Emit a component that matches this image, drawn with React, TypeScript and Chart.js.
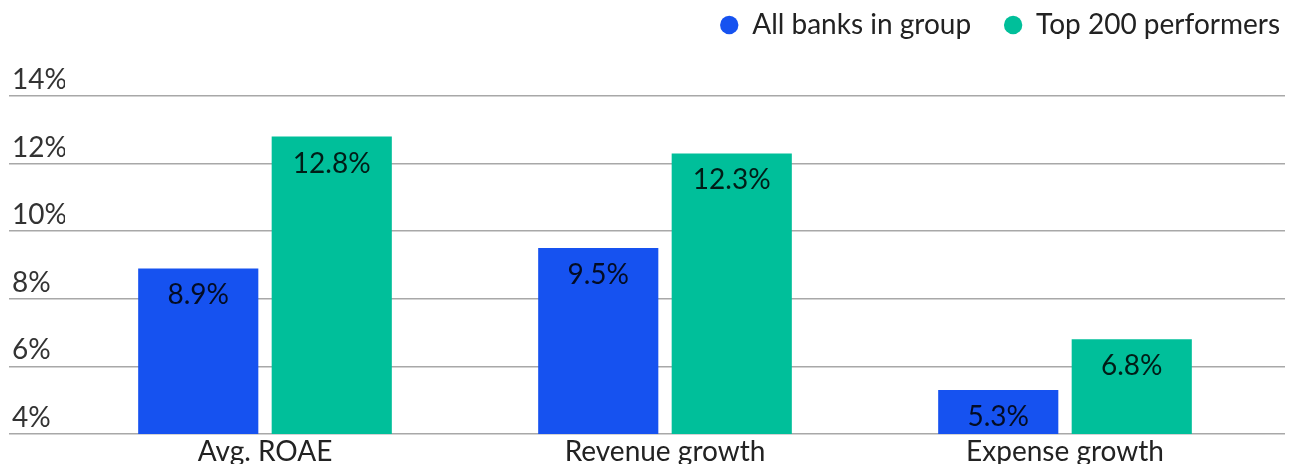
import React, { useEffect, useRef } from "react";
import { Chart, registerables } from "chart.js";

Chart.register(...registerables);

const categories = ["Avg. ROAE", "Revenue growth", "Expense growth"];
const allBanks = [8.9, 9.5, 5.3];
const top200 = [12.8, 12.3, 6.8];
const seriesNames = ["All banks in group", "Top 200 performers"];
const yMin = 4;
const yMax = 14;
const yStep = 2;

const BLUE = "#1652F0";
const TEAL = "#00BF9A";
const GRID = "#a8a8a8";
const FONT = "Lato";
const FS = 28;

const valueLabels = {
  id: "valueLabels",
  afterDatasetsDraw(chart: any) {
    const ctx = chart.ctx;
    ctx.save();
    ctx.font = `${FS}px ${FONT}`;
    ctx.fillStyle = "rgba(0,0,0,0.85)";
    ctx.textAlign = "center";
    ctx.textBaseline = "middle";
    chart.data.datasets.forEach((ds: any, i: number) => {
      chart.getDatasetMeta(i).data.forEach((bar: any, j: number) => {
        ctx.fillText(`${Number(ds.data[j]).toFixed(1)}%`, bar.x, bar.y + 27);
      });
    });
    ctx.restore();
  },
};

export default function App() {
  const ref = useRef<HTMLCanvasElement | null>(null);
  useEffect(() => {
    if (!ref.current) return;
    Chart.defaults.font.family = FONT;
    const chart = new Chart(ref.current, {
      type: "bar",
      data: {
        labels: categories,
        datasets: [
          { label: seriesNames[0], data: allBanks, backgroundColor: BLUE, borderWidth: 0, categoryPercentage: 0.6675, barPercentage: 0.9 },
          { label: seriesNames[1], data: top200, backgroundColor: TEAL, borderWidth: 0, categoryPercentage: 0.6675, barPercentage: 0.9 },
        ],
      },
      options: {
        animation: false,
        responsive: true,
        maintainAspectRatio: false,
        layout: { padding: { top: -22, left: 12, right: -24, bottom: -5.6 } },
        plugins: {
          tooltip: { enabled: false },
          legend: {
            position: "top",
            align: "end",
            labels: {
              usePointStyle: true,
              pointStyle: "circle",
              boxWidth: 18,
              boxHeight: 13,
              padding: 33,
              color: "#222",
              font: { size: FS, family: FONT },
            },
          },
        },
        scales: {
          x: {
            type: "category",
            position: "bottom",
            grid: { display: false, drawTicks: false },
            border: { display: false },
            ticks: { color: "#222", padding: 1, font: { size: FS, family: FONT, lineHeight: 1.2 } },
          },
          xTop: {
            type: "category",
            position: "top",
            display: true,
            grid: { display: false, drawTicks: false },
            border: { display: false },
            ticks: { display: false },
            afterFit(s: any) { s.height = 47; },
          },
          y: {
            type: "linear",
            position: "left",
            min: yMin,
            max: yMax,
            grid: { color: GRID, lineWidth: 1.5, drawTicks: true, tickLength: 56 },
            border: { display: false },
            ticks: {
              stepSize: yStep,
              crossAlign: "far",
              labelOffset: -16,
              padding: 0,
              color: "#333",
              font: { size: FS, family: FONT },
              callback: (v: any) => `${v}%`,
            },
            afterFit(s: any) { s.width = 53; },
          },
          yRight: {
            type: "linear",
            position: "right",
            min: yMin,
            max: yMax,
            grid: { color: GRID, lineWidth: 1.5, drawOnChartArea: false, drawTicks: true, tickLength: 20 },
            border: { display: false },
            ticks: { stepSize: yStep, display: false },
            afterFit(s: any) { s.width = 48; },
          },
        },
      },
      plugins: [valueLabels],
    });
    return () => chart.destroy();
  }, []);
  return (
    <div style={{ position: "fixed", left: 0, top: 0, width: 1289, height: 464, background: "#fff" }}>
      <canvas ref={ref} />
    </div>
  );
}
